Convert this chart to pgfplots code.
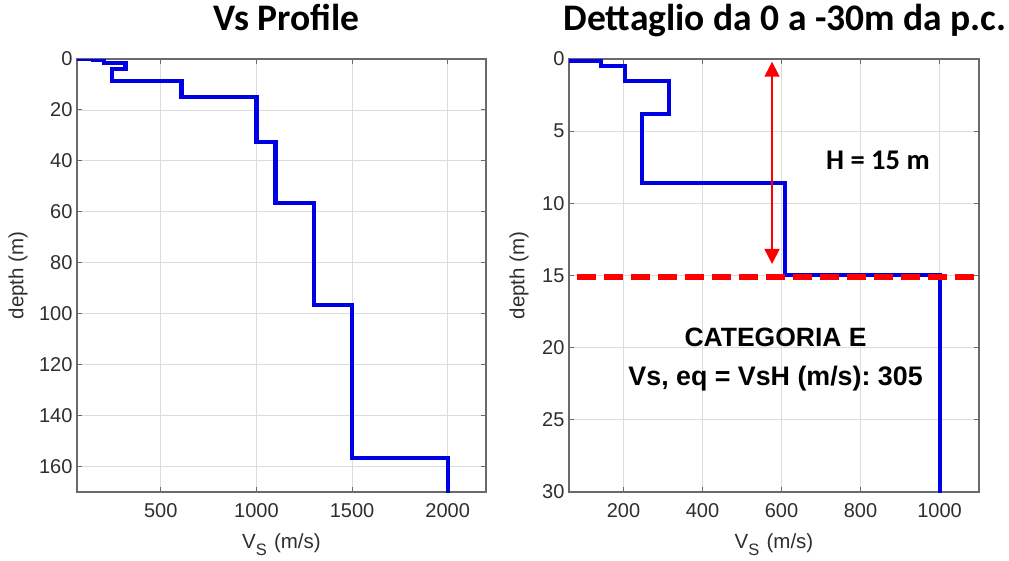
\documentclass[border=0pt]{standalone}
\usepackage{pgfplots}
\pgfplotsset{compat=1.18}
\usepackage{pgfplotstable}
\usepackage{fontspec}
\setmainfont{Liberation Sans}
\newfontfamily\calibri{Carlito}
\usetikzlibrary{arrows.meta}
\definecolor{axc}{HTML}{6A6A6A}
\definecolor{tkc}{HTML}{2E2E2E}
\definecolor{grc}{HTML}{DCDCDC}
\definecolor{vsblue}{HTML}{0000E6}
\frenchspacing

\pgfplotstableread{
vs depth
62 0
62 0.12
144 0.12
144 0.5
203 0.5
203 1.5
316 1.5
316 3.8
247 3.8
247 8.6
608 8.6
608 14.95
1000 14.95
1000 32.6
1100 32.6
1100 56.5
1300 56.5
1300 96.5
1500 96.5
1500 156.5
2000 156.5
2000 172
}\profile

\pgfplotsset{vsstyle/.style={
  scale only axis, height=433pt, y dir=reverse,
  axis line style={axc, line width=1.4pt},
  tick style={axc, line width=1pt},
  major tick length=5pt, tick align=inside, xtick pos=both, ytick pos=both,
  grid=major, major grid style={grc, line width=0.8pt},
  scaled ticks=false,
  /pgf/number format/assume math mode=true,
  /pgf/number format/1000 sep={},
  ticklabel style={font=\fontsize{20}{22}\selectfont, text=tkc},
  label style={font=\fontsize{20.5}{23}\selectfont, text=tkc},
  xticklabel style={yshift=-8pt},
  yticklabel style={xshift=-1pt},
  title style={font=\calibri\bfseries\fontsize{37.5}{40}\selectfont, anchor=base},
  xlabel style={at={(axis description cs:0.5,-0.1316)}, anchor=base},
  xlabel={V\raisebox{-0.6ex}{\fontsize{16.5}{16.5}\selectfont S}\hspace{0.35em}(m/s)},
  ylabel={depth (m)},
}}

\begin{document}
\begin{tikzpicture}
\path[use as bounding box] (0,0) rectangle (1009pt,560pt);

\begin{axis}[vsstyle,
  at={(77pt,68pt)}, anchor=south west, width=409pt,
  xmin=62, xmax=2200, ymin=0, ymax=170,
  xtick={500,1000,1500,2000}, ytick={0,20,...,160},
  title={Vs Profile},
  title style={at={(axis description cs:0.512,1.0515)}},
  ylabel style={at={(axis description cs:-0.1443,0.5)}, anchor=center},
]
\addplot[vsblue, line width=4.2pt, line join=miter] table[x=vs, y=depth] {\profile};
\end{axis}

\begin{axis}[vsstyle,
  at={(569pt,68pt)}, anchor=south west, width=410pt,
  xmin=62, xmax=1100, ymin=0, ymax=30,
  xtick={200,400,...,1000}, ytick={0,5,...,30},
  title={Dettaglio da 0 a -30m da p.c.},
  title style={at={(axis description cs:0.527,1.0515)}},
  ylabel style={at={(axis description cs:-0.122,0.5)}, anchor=center},
]
\addplot[vsblue, line width=4pt, line join=miter] table[x=vs, y=depth] {\profile};
\addplot[red, line width=5.5pt, dash pattern=on 19pt off 8pt, dash phase=19pt] coordinates {(62,15.12) (1100,15.12)};
\addplot[red, line width=1.8pt, {Triangle[width=15pt,length=15pt]}-{Triangle[width=15pt,length=15pt]}] coordinates {(576,0.19) (576,14.2)};
\node[font=\calibri\bfseries\fontsize{28.5}{30}\selectfont, anchor=base] at (axis cs:844,7.63) {H = 15 m};
\node[font=\bfseries\fontsize{26.5}{30}\selectfont, anchor=base] at (axis cs:585,19.95) {CATEGORIA E};
\node[font=\bfseries\fontsize{26.8}{30}\selectfont, anchor=base] at (axis cs:585,22.63) {Vs, eq = VsH (m/s): 305};
\end{axis}
\end{tikzpicture}
\end{document}
